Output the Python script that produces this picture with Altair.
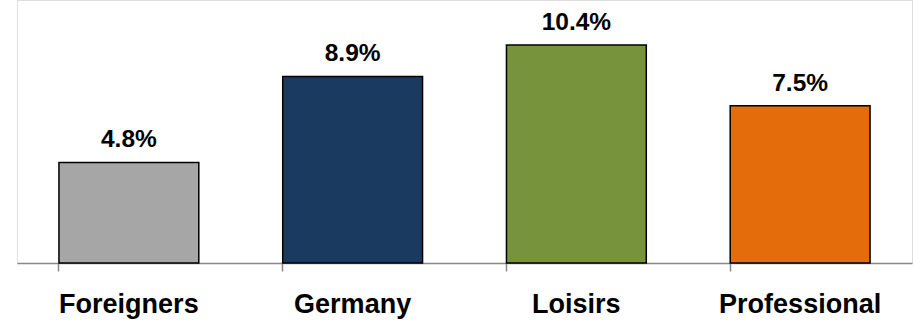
import altair as alt
import pandas as pd

categories = ["Foreigners", "Germany", "Loisirs", "Professional"]
values = [4.8, 8.9, 10.4, 7.5]
labels = ["4.8%", "8.9%", "10.4%", "7.5%"]
colors = ["#A6A6A6", "#1B3A5F", "#77933C", "#E46C0A"]

df = pd.DataFrame({"cat": categories, "val": values, "lab": labels})

x = alt.X("cat:N", sort=categories,
          scale=alt.Scale(paddingInner=0.375, paddingOuter=0.1875),
          axis=alt.Axis(title=None, labelAngle=0, labelFont="Liberation Sans",
                        labelFontSize=27, labelFontWeight="bold", labelColor="#000000",
                        labelPadding=20, domainColor="#888888", tickColor="#888888",
                        tickSize=8, bandPosition=0, domainWidth=1.5, tickWidth=1.5))
y = alt.Y("val:Q", scale=alt.Scale(domain=[0, 12.55], nice=False, zero=True), axis=None)

bars = alt.Chart(df).mark_bar(stroke="#000000", strokeWidth=1.5).encode(
    x=x, y=y,
    color=alt.Color("cat:N", scale=alt.Scale(domain=categories, range=colors), legend=None),
)
text = alt.Chart(df).mark_text(font="Liberation Sans", fontSize=24.5, fontWeight="bold",
                               baseline="alphabetic", dy=-15, color="#000000").encode(
    x=alt.X("cat:N", sort=categories), y=y, text="lab:N")

chart = (bars + text).properties(
    width=895, height=263,
    padding={"left": 17, "top": 0, "right": 1, "bottom": 59},
    autosize=alt.AutoSizeParams(type="none"),
).configure_view(stroke=None).configure(background="#FFFFFF")

chart.save("out.html", embed_options={"renderer": "svg", "actions": False})
